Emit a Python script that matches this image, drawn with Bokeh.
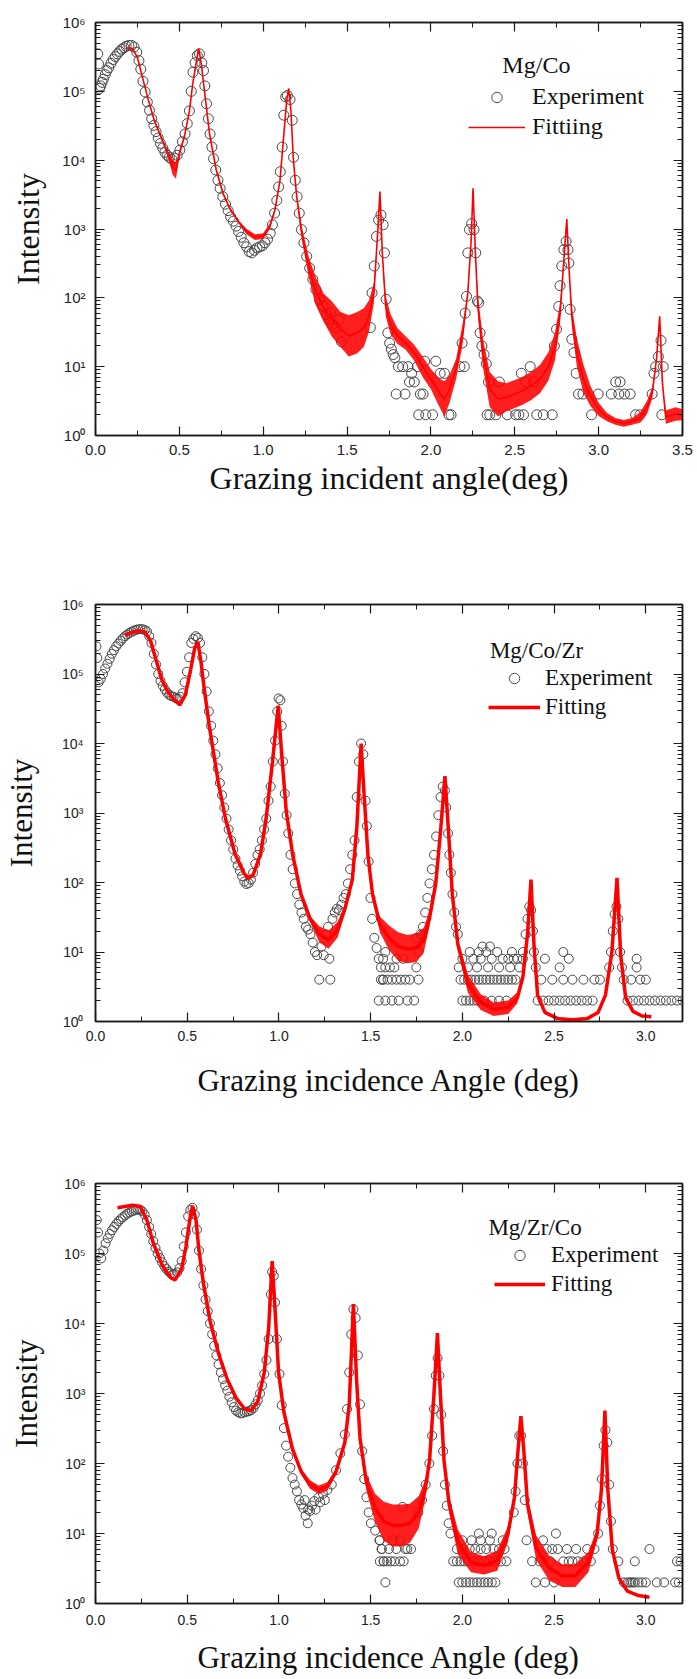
from bokeh.plotting import figure
from bokeh.models import (FixedTicker, LinearAxis, LogAxis, Legend, LegendItem,
                          Label, PrintfTickFormatter, Range1d)
from bokeh.layouts import column
from bokeh.embed import file_html
from bokeh.resources import INLINE

SERIF = "Liberation Serif"
SANS = "Liberation Sans"

# ---------------- Panel 1 : Mg/Co ----------------
exp1_x = [0.013, 0.018, 0.024, 0.031, 0.039, 0.047, 0.058, 0.068, 0.079, 0.092, 0.105, 0.118, 0.131,
          0.144, 0.157, 0.170, 0.183, 0.199, 0.215, 0.230, 0.246, 0.259, 0.270, 0.283, 0.296, 0.309,
          0.322, 0.335, 0.348, 0.361, 0.374, 0.387, 0.401, 0.414, 0.427, 0.440, 0.455, 0.471, 0.487,
          0.503, 0.518, 0.534, 0.547, 0.560, 0.571, 0.581, 0.594, 0.607, 0.620, 0.634, 0.644, 0.652,
          0.662, 0.673, 0.683, 0.694, 0.704, 0.717, 0.730, 0.743, 0.759, 0.775, 0.791, 0.806, 0.822,
          0.838, 0.853, 0.869, 0.885, 0.901, 0.916, 0.932, 0.948, 0.963, 0.979, 0.995, 1.010, 1.026,
          1.042, 1.055, 1.068, 1.081, 1.092, 1.102, 1.113, 1.123, 1.134, 1.144, 1.160, 1.173, 1.181,
          1.191, 1.202, 1.215, 1.228, 1.243, 1.259, 1.277, 1.296, 1.314, 1.335, 1.356, 1.377, 1.395,
          1.400, 1.414, 1.435, 1.453, 1.466, 1.639, 1.649, 1.662, 1.675, 1.688, 1.702, 1.715, 1.723,
          1.733, 1.743, 1.754, 1.764, 1.775, 1.785,
          1.793, 1.806, 1.832, 1.846, 1.864, 1.872, 1.885, 1.901, 1.919, 1.927, 1.937, 1.953, 1.963,
          1.969, 2.010, 2.029, 2.055, 2.081, 2.107, 2.120, 2.173, 2.186, 2.199, 2.204, 2.212, 2.220,
          2.230, 2.243, 2.257, 2.267, 2.277, 2.285, 2.293, 2.304, 2.317, 2.330, 2.335, 2.343, 2.351,
          2.387, 2.408, 2.455, 2.505, 2.524, 2.539, 2.552, 2.565, 2.592, 2.613, 2.631, 2.670, 2.723,
          2.736, 2.749, 2.762, 2.770, 2.780, 2.793, 2.806, 2.817, 2.822, 2.830, 2.840, 2.853, 2.866,
          2.880, 2.906, 2.958, 2.997, 3.076, 3.102, 3.120, 3.128, 3.154, 3.188, 3.220, 3.246, 3.319,
          3.330, 3.340, 3.356, 3.372, 3.377, 3.385]
exp1_y = [3.5e5, 2.5e5, 1.1e5, 1.2e5, 1.35e5, 1.5e5, 1.75e5, 2.0e5, 2.2e5, 2.55e5, 2.9e5, 3.2e5, 3.5e5,
          3.8e5, 4.1e5, 4.3e5, 4.5e5, 4.65e5, 4.65e5, 4.4e5, 3.7e5, 2.8e5, 2.1e5, 1.4e5, 9.8e4, 7.0e4,
          5.3e4, 4.0e4, 3.2e4, 2.6e4, 2.1e4, 1.75e4, 1.5e4, 1.3e4, 1.18e4, 1.1e4, 1.03e4, 1.07e4, 1.18e4,
          1.4e4, 1.85e4, 2.4e4, 3.4e4, 5.2e4, 1.0e5, 1.9e5, 2.6e5, 3.3e5, 3.5e5, 2.6e5, 2.0e5, 1.2e5,
          6.6e4, 4.0e4, 2.4e4, 1.55e4, 1.05e4, 7.2e3, 5.1e3, 3.9e3, 2.95e3, 2.3e3, 1.85e3, 1.5e3, 1.3e3,
          1.1e3, 920, 760, 630, 550, 470, 450, 490, 530, 550, 570, 630, 710,
          870, 1150, 1700, 2600, 4100, 6800, 1.55e4, 4.5e4, 8.3e4, 8.7e4, 7.6e4, 3.8e4, 1.1e4,
          5100, 2950, 1700, 980, 630, 400, 270, 185, 132, 95, 76, 57, 49,
          60, 41, 37, 48, 23, 37, 118, 290, 780, 1350, 1600, 1150, 450,
          95, 31, 22, 18, 15, 13.5,
          4, 10, 10, 4, 10, 6, 8, 6, 10, 2, 4, 4, 12,
          2, 2, 12, 8, 8, 2, 2, 10, 22, 10, 60, 105, 450,
          980, 1200, 980, 450, 90, 85, 31, 20, 15, 11, 2, 6, 2,
          2, 6, 2, 2, 2, 8, 2, 6, 10, 6, 2, 2, 2,
          20, 35, 75, 150, 290, 500, 660, 500, 320, 68, 25, 16, 8,
          4, 4, 2, 4, 4, 6, 4, 6, 4, 4, 2, 2, 4,
          8, 10, 14, 24, 2, 10]

fit1_x = [0.18, 0.20, 0.22, 0.25, 0.28, 0.31, 0.35, 0.39, 0.43, 0.46, 0.48, 0.50, 0.53, 0.56, 0.58,
          0.60, 0.615, 0.63, 0.65, 0.68, 0.72, 0.76, 0.80, 0.85, 0.90, 0.95, 1.00, 1.04, 1.07, 1.10,
          1.12, 1.14, 1.152, 1.165, 1.18, 1.20, 1.23, 1.27, 1.31, 1.36, 1.41, 1.46, 1.51, 1.56, 1.60,
          1.63, 1.66, 1.68, 1.696, 1.71, 1.73, 1.76, 1.80, 1.85, 1.90, 1.95, 2.00, 2.05, 2.08, 2.11,
          2.15, 2.19, 2.22, 2.24, 2.251, 2.265, 2.28, 2.31, 2.35, 2.40, 2.45, 2.50, 2.55, 2.60, 2.65,
          2.70, 2.74, 2.77, 2.79, 2.81, 2.825, 2.84, 2.87, 2.91, 2.95, 3.00, 3.05, 3.10, 3.15, 3.20,
          3.25, 3.29, 3.32, 3.345, 3.364, 3.38, 3.40, 3.43, 3.46, 3.50]
fit1_y = [4.2e5, 4.3e5, 4.2e5, 3.1e5, 1.6e5, 8.3e4, 3.8e4, 2.2e4, 1.25e4, 8.0e3, 7.0e3, 1.25e4, 2.2e4,
          5.2e4, 1.3e5, 2.6e5, 4.2e5, 2.6e5, 1.0e5, 2.4e4, 7.2e3, 3.3e3, 2.0e3, 1.3e3, 920, 760, 790,
          1.1e3, 1.9e3, 5.1e3, 1.95e4, 7.4e4, 1.1e5, 5.3e4, 1.0e4, 2.9e3, 870, 290, 130, 72, 49, 35,
          28, 31, 37, 54, 118, 700, 3.5e3, 450, 76, 41, 28, 22, 16, 10, 6.6, 4.2, 3.4, 4.7, 9.2, 31,
          118, 700, 3.9e3, 450, 76, 16, 4.7, 3.4, 3.6, 4.0, 4.5, 5.3, 6.6, 10, 20, 60, 290, 1.4e3, 230,
          54, 16, 6.6, 3.8, 2.4, 1.85, 1.6, 1.5, 1.6, 1.85, 2.6, 4.2, 13, 54, 5.9, 1.85, 1.95, 2.05,
          2.0]
fit1_spread = [1.0, 1.0, 1.0, 1.0, 1.0, 1.0, 1.05, 1.05, 1.1, 1.3, 1.3, 1.1, 1.05, 1.0, 1.0,
               1.0, 1.0, 1.0, 1.0, 1.0, 1.05, 1.05, 1.05, 1.05, 1.1, 1.1, 1.1, 1.1, 1.05, 1.0,
               1.0, 1.0, 1.0, 1.0, 1.0, 1.1, 1.25, 1.4, 1.6, 1.6, 1.8, 1.8, 2.0, 2.0, 1.9,
               1.7, 1.4, 1.0, 1.0, 1.0, 1.4, 1.4, 1.3, 1.25, 1.3, 1.4, 1.4, 1.6, 1.8, 1.6,
               1.4, 1.4, 1.0, 1.0, 1.0, 1.0, 1.4, 1.6, 1.8, 1.8, 1.6, 1.6, 1.6, 1.6, 1.6,
               1.6, 1.6, 1.4, 1.0, 1.0, 1.0, 1.4, 1.6, 1.6, 1.4, 1.25, 1.15, 1.12, 1.12, 1.12,
               1.2, 1.25, 1.2, 1.0, 1.0, 1.0, 1.25, 1.25, 1.25, 1.2]

# ---------------- Panel 2 : Mg/Co/Zr ----------------
exp2_x = [0.005, 0.010, 0.017, 0.029, 0.041, 0.053, 0.065, 0.077, 0.089, 0.101, 0.113, 0.125, 0.137,
          0.149, 0.161, 0.173, 0.185, 0.197, 0.209, 0.221, 0.233, 0.245, 0.257, 0.269, 0.281, 0.293,
          0.305, 0.318, 0.330, 0.342, 0.354, 0.366, 0.378, 0.390, 0.402, 0.414, 0.426, 0.438, 0.450,
          0.462, 0.474, 0.486, 0.498, 0.510, 0.522, 0.534, 0.546, 0.558, 0.570, 0.582, 0.594, 0.606,
          0.618, 0.630, 0.642, 0.654, 0.666, 0.678, 0.690, 0.702, 0.714, 0.726, 0.739, 0.751, 0.763,
          0.775, 0.787, 0.799, 0.811, 0.823, 0.835, 0.847, 0.859, 0.871, 0.883, 0.895, 0.907, 0.919,
          0.931, 0.943, 0.955, 0.967, 0.979, 0.991, 0.998, 1.008, 1.015, 1.022, 1.032, 1.042, 1.051,
          1.063, 1.075, 1.087, 1.099, 1.111, 1.123, 1.135, 1.147, 1.159, 1.172, 1.184, 1.196, 1.208,
          1.220, 1.232, 1.244, 1.256, 1.268, 1.275, 1.280, 1.292, 1.304, 1.316, 1.328, 1.340, 1.352,
          1.364, 1.376, 1.388, 1.400, 1.412, 1.424, 1.436, 1.448, 1.460, 1.472, 1.479, 1.489, 1.499,
          1.508, 1.520, 1.532, 1.544, 1.556, 1.568,
          1.544, 1.580, 1.616, 1.653, 1.701, 1.737, 1.556, 1.568, 1.592, 1.616, 1.641, 1.665, 1.689,
          1.713, 1.761, 1.580, 1.605, 1.629, 1.749, 1.568, 1.641, 1.677, 1.580, 1.761,
          1.749, 1.773, 1.785, 1.797, 1.809, 1.821, 1.833, 1.845, 1.857, 1.869, 1.881, 1.893, 1.905,
          1.912, 1.922, 1.929, 1.937, 1.946, 1.956, 1.965, 1.975,
          2.00, 2.02, 2.04, 2.06, 2.08, 2.12, 2.16, 2.20, 2.24,
          1.99, 2.01, 2.03, 2.05, 2.07, 2.09, 2.11, 2.13, 2.15, 2.17, 2.19, 2.21, 2.23, 2.25, 2.27, 2.29,
          1.98, 2.03, 2.08, 2.14, 2.20, 2.26, 2.31,
          2.00, 2.06, 2.10, 2.16, 2.22, 2.25, 2.28, 2.30, 2.33,
          2.04, 2.09, 2.13, 2.19, 2.27, 2.11, 2.15,
          2.33, 2.345, 2.355, 2.365, 2.375, 2.385, 2.39, 2.40,
          2.41, 2.44, 2.47, 2.50, 2.53, 2.56, 2.59, 2.62, 2.65, 2.68, 2.71,
          2.43, 2.49, 2.55, 2.60, 2.66, 2.72, 2.75, 2.53, 2.45, 2.58, 2.55,
          2.80, 2.81, 2.82, 2.83, 2.84, 2.85, 2.86, 2.87,
          2.90, 2.93, 2.96, 2.99, 3.02, 3.05, 3.08, 3.11, 3.14, 3.17, 3.20,
          2.88, 2.92, 2.97, 3.00, 2.95, 2.95]
exp2_y = [2.5e5, 1.7e5, 7.6e4, 8.5e4, 1.0e5, 1.2e5, 1.4e5, 1.65e5, 1.95e5, 2.2e5, 2.5e5, 2.75e5, 3.0e5,
          3.25e5, 3.5e5, 3.7e5, 3.9e5, 4.05e5, 4.2e5, 4.3e5, 4.4e5, 4.45e5, 4.4e5, 4.3e5, 4.1e5, 3.5e5,
          2.8e5, 1.95e5, 1.37e5, 1.0e5, 8.0e4, 6.8e4, 6.0e4, 5.4e4, 5.0e4, 4.8e4, 4.7e4, 4.5e4, 4.45e4,
          4.7e4, 5.3e4, 7.6e4, 1.08e5, 1.74e5, 2.8e5, 3.2e5, 3.5e5, 3.3e5, 2.8e5, 1.74e5, 1.0e5, 5.6e4,
          2.9e4, 1.8e4, 1.1e4, 7.0e3, 4.4e3, 2.7e3, 1.8e3, 1.2e3, 830, 580, 405, 300, 220,
          176, 148, 123, 103, 95, 98, 110, 138, 185, 250, 300, 405, 580,
          830, 1.5e3, 2.4e3, 5.5e3, 1.1e4, 2.9e4, 4.45e4, 4.2e4, 1.8e4, 5.5e3, 1.9e3, 930, 510,
          250, 155, 97, 68, 48, 37, 30, 23, 21, 18, 13.7, 10, 9,
          4, 12, 9, 18, 23, 8, 4, 30, 37, 42, 40, 48, 60,
          68, 97, 155, 250, 405, 1.7e3, 5.5e3, 1.0e4, 7.0e3, 1.5e3, 650, 200, 60,
          30, 16, 11.4, 8, 6, 4,
          2, 2, 2, 2, 2, 2, 4, 4, 4, 4, 4, 4, 4,
          4, 4, 6, 6, 6, 6, 8, 8, 8, 10, 10,
          16, 18, 23, 37, 60, 97, 155, 250, 460, 930, 1700, 2400, 2100,
          1200, 510, 250, 138, 68, 37, 23, 18,
          2, 2, 2, 2, 2, 2, 2, 2, 2,
          4, 4, 4, 4, 4, 4, 4, 4, 4, 4, 4, 4, 4, 4, 4, 4,
          6, 6, 6, 6, 6, 6, 6,
          8, 8, 8, 8, 8, 8, 8, 8, 8,
          10, 10, 10, 10, 10, 12, 12,
          10, 18, 30, 45, 40, 20, 10, 6,
          2, 2, 2, 2, 2, 2, 2, 2, 2, 2, 2,
          4, 4, 4, 4, 4, 4, 4, 6, 8, 8, 10,
          6, 10, 20, 35, 45, 30, 10, 6,
          2, 2, 2, 2, 2, 2, 2, 2, 2, 2, 2,
          4, 4, 4, 4, 6, 8]

fit2_x = [0.16, 0.20, 0.24, 0.27, 0.30, 0.33, 0.36, 0.39, 0.43, 0.46, 0.49, 0.52, 0.54, 0.558, 0.575,
          0.59, 0.62, 0.67, 0.71, 0.76, 0.81, 0.835, 0.86, 0.90, 0.93, 0.965, 0.996, 1.015, 1.04,
          1.075, 1.12, 1.17, 1.22, 1.27, 1.32, 1.36, 1.40, 1.425, 1.448, 1.465, 1.485, 1.51, 1.55,
          1.60, 1.65, 1.70, 1.75, 1.79, 1.82, 1.855, 1.88, 1.905, 1.925, 1.945, 1.975, 2.03, 2.10,
          2.17, 2.25, 2.30, 2.33, 2.355, 2.374, 2.39, 2.41, 2.45, 2.52, 2.60, 2.68, 2.74, 2.78, 2.815,
          2.843, 2.863, 2.89, 2.93, 2.98, 3.03]
fit2_y = [3.6e5, 4.0e5, 4.2e5, 4.0e5, 3.0e5, 1.6e5, 8.5e4, 5.8e4, 4.2e4, 3.6e4, 5.0e4, 1.2e5, 2.3e5,
          2.9e5, 1.5e5, 7.0e4, 1.8e4, 2.7e3, 800, 260, 135, 115, 130, 260, 830, 5.5e3, 3.5e4, 7.0e3,
          1.05e3, 250, 68, 30, 18, 15, 21, 42, 110, 650, 1.0e4, 1.7e3, 250, 68, 25, 16, 12, 11,
          11.5, 15, 30, 97, 510, 3.4e3, 510, 68, 13, 3.5, 1.9, 1.5, 1.6, 2.2, 4.4, 18, 110, 13,
          2.4, 1.35, 1.1, 1.06, 1.1, 1.35, 2.4, 10, 117, 9, 2.2, 1.4, 1.2, 1.17]
fit2_spread = [1.0, 1.0, 1.0, 1.0, 1.0, 1.0, 1.0, 1.0, 1.0, 1.0, 1.0, 1.0, 1.0, 1.0, 1.0,
               1.0, 1.0, 1.0, 1.0, 1.0, 1.0, 1.0, 1.0, 1.0, 1.0, 1.0, 1.0, 1.0, 1.0,
               1.0, 1.05, 1.1, 1.3, 1.35, 1.3, 1.15, 1.0, 1.0, 1.0, 1.0, 1.0, 1.1, 1.3,
               1.5, 1.6, 1.6, 1.6, 1.5, 1.3, 1.0, 1.0, 1.0, 1.0, 1.0, 1.2, 1.35, 1.3,
               1.25, 1.25, 1.2, 1.0, 1.0, 1.0, 1.0, 1.1, 1.05, 1.05, 1.05, 1.05, 1.0, 1.0, 1.0,
               1.0, 1.0, 1.0, 1.0, 1.0, 1.0]

# ---------------- Panel 3 : Mg/Zr/Co ----------------
exp3_x = [0.007, 0.014, 0.021, 0.031, 0.043, 0.055, 0.067, 0.078, 0.090, 0.102, 0.114, 0.126, 0.138,
          0.149, 0.161, 0.173, 0.185, 0.197, 0.209, 0.221, 0.233, 0.244, 0.256, 0.268, 0.280, 0.292,
          0.304, 0.315, 0.327, 0.339, 0.351, 0.363, 0.375, 0.387, 0.399, 0.410, 0.422, 0.434, 0.446,
          0.458, 0.470, 0.481, 0.493, 0.505, 0.517, 0.529, 0.541, 0.553, 0.564, 0.576, 0.588, 0.600,
          0.612, 0.624, 0.636, 0.647, 0.659, 0.671, 0.683, 0.695, 0.707, 0.719, 0.730, 0.742, 0.754,
          0.766, 0.778, 0.790, 0.801, 0.813, 0.825, 0.837, 0.849, 0.861, 0.873, 0.885, 0.897, 0.908,
          0.920, 0.932, 0.944, 0.956, 0.963, 0.972, 0.979, 0.989, 1.003, 1.015, 1.027, 1.039, 1.050,
          1.062, 1.074, 1.086, 1.098, 1.110, 1.122, 1.133, 1.140, 1.145, 1.157, 1.160, 1.169, 1.180,
          1.193, 1.200, 1.217, 1.225, 1.240, 1.250, 1.264, 1.288, 1.311, 1.335, 1.359, 1.371, 1.383,
          1.394, 1.406, 1.418, 1.430, 1.442, 1.454, 1.465, 1.477, 1.489, 1.501, 1.525, 1.548, 1.560,
          1.572,
          1.58, 1.55, 1.57, 1.59, 1.61, 1.63, 1.66, 1.68, 1.56, 1.60, 1.64, 1.69, 1.72, 1.55, 1.62,
          1.66, 1.674, 1.70,
          1.76, 1.78, 1.80, 1.82, 1.835, 1.845, 1.855, 1.865, 1.875, 1.885, 1.895, 1.905, 1.915,
          1.925, 1.935,
          1.98, 2.00, 2.02, 2.04, 2.06, 2.08, 2.10, 2.12, 2.14, 2.16, 2.18,
          1.95, 1.97, 1.99, 2.01, 2.03, 2.06, 2.09, 2.12, 2.15, 2.18, 2.21, 2.24,
          1.97, 2.00, 2.04, 2.07, 2.10, 2.13, 2.17, 2.20, 2.23,
          2.00, 2.05, 2.10, 2.15, 2.22, 2.09, 2.16,
          2.28, 2.29, 2.30, 2.31, 2.32, 2.33, 2.34, 2.35,
          2.40, 2.45, 2.50, 2.38, 2.42, 2.48, 2.55, 2.58, 2.60, 2.63, 2.66, 2.70,
          2.46, 2.49, 2.52, 2.57, 2.62, 2.68, 2.72, 2.44, 2.51,
          2.74, 2.75, 2.76, 2.77, 2.78, 2.79, 2.80, 2.81, 2.82,
          2.88, 2.90, 2.91, 2.92, 2.93, 2.94, 2.96, 2.98, 3.00, 3.06, 3.10, 3.16, 3.18,
          2.85, 2.94, 3.17, 3.19, 3.02]
exp3_y = [3.0e5, 2.0e5, 1.0e5, 8.5e4, 1.1e5, 1.4e5, 1.65e5, 1.9e5, 2.15e5, 2.4e5, 2.65e5, 2.9e5, 3.1e5,
          3.3e5, 3.5e5, 3.7e5, 3.85e5, 4.0e5, 4.1e5, 4.2e5, 4.25e5, 4.2e5, 4.0e5, 3.6e5, 3.0e5, 2.4e5,
          1.9e5, 1.5e5, 1.2e5, 1.0e5, 8.6e4, 7.5e4, 6.6e4, 6.0e4, 5.5e4, 5.2e4, 5.0e4, 5.1e4, 5.4e4,
          6.2e4, 7.8e4, 1.26e5, 2.0e5, 3.4e5, 4.2e5, 4.5e5, 3.6e5, 2.2e5, 1.1e5, 6.0e4, 3.5e4, 2.2e4,
          1.5e4, 1.0e4, 7.0e3, 4.8e3, 3.5e3, 2.6e3, 2.0e3, 1.6e3, 1.3e3, 1.1e3, 900, 750, 640,
          570, 540, 520, 525, 540, 550, 560, 580, 620, 700, 800, 1.0e3, 1.3e3,
          1.9e3, 3.0e3, 6.0e3, 2.6e4, 5.5e4, 4.8e4, 2.0e4, 6.0e3, 1.9e3, 680, 320, 180, 125,
          87, 62, 50, 40, 30, 26, 23, 30, 18, 14, 22, 21, 25,
          29, 22, 33, 28, 37, 30, 42, 50, 80, 140, 260, 600, 2.0e3,
          7.0e3, 1.6e4, 1.2e4, 3.5e3, 700, 150, 60, 33, 20, 14, 11, 8, 6,
          4,
          2, 4, 4, 4, 4, 4, 4, 4, 6, 6, 6, 6, 6, 8, 8,
          8, 24, 6,
          20, 30, 50, 100, 250, 600, 1800, 3200, 1800, 500, 150, 50, 25,
          14, 10,
          2, 2, 2, 2, 2, 2, 2, 2, 2, 2, 2,
          4, 4, 4, 4, 4, 4, 4, 4, 4, 4, 4, 4,
          6, 6, 6, 6, 6, 6, 6, 6, 6,
          8, 8, 8, 8, 8, 10, 10,
          20, 40, 100, 250, 250, 100, 30, 8,
          2, 2, 2, 4, 4, 4, 4, 4, 4, 4, 4, 4,
          6, 6, 6, 6, 6, 6, 6, 8, 10,
          10, 25, 60, 180, 300, 200, 50, 15, 6,
          2, 2, 2, 2, 2, 2, 2, 2, 2, 2, 2, 2, 2,
          4, 4, 4, 4, 6]

fit3_x = [0.12, 0.20, 0.244, 0.28, 0.315, 0.363, 0.41, 0.434, 0.47, 0.493, 0.517, 0.529, 0.548, 0.564,
          0.588, 0.624, 0.671, 0.718, 0.766, 0.813, 0.849, 0.885, 0.92, 0.944, 0.963, 0.98, 0.998,
          1.027, 1.074, 1.122, 1.169, 1.217, 1.264, 1.311, 1.359, 1.383, 1.406, 1.423, 1.442, 1.477,
          1.525, 1.572, 1.62, 1.667, 1.714, 1.762, 1.797, 1.821, 1.845, 1.864, 1.88, 1.90, 1.928,
          1.975, 2.047, 2.118, 2.19, 2.248, 2.284, 2.302, 2.319, 2.336, 2.355, 2.402, 2.473, 2.544,
          2.616, 2.687, 2.734, 2.758, 2.777, 2.793, 2.817, 2.853, 2.90, 2.96, 3.02]
fit3_y = [4.5e5, 4.9e5, 4.7e5, 3.0e5, 1.4e5, 6.9e4, 4.5e4, 4.2e4, 6.1e4, 1.26e5, 3.4e5, 4.8e5, 3.0e5,
          1.1e5, 3.8e4, 1.1e4, 3.7e3, 1.6e3, 870, 600, 570, 770, 2.0e3, 8.7e3, 7.8e4, 1.4e4, 2.0e3,
          540, 160, 76, 50, 42, 47, 76, 200, 680, 1.9e4, 1.6e3, 230, 53, 23, 15, 13, 13, 14, 20,
          42, 110, 980, 7.3e3, 980, 110, 26, 7.6, 3.9, 3.5, 4.1, 9.7, 33, 140, 475, 140, 26, 6.3,
          3.2, 2.5, 2.5, 3.9, 9.7, 42, 570, 42, 6.0, 2.3, 1.5, 1.3, 1.23]
fit3_spread = [1.0, 1.0, 1.0, 1.0, 1.0, 1.0, 1.0, 1.0, 1.0, 1.0, 1.0, 1.0, 1.0, 1.0,
               1.0, 1.0, 1.0, 1.0, 1.0, 1.0, 1.0, 1.0, 1.0, 1.0, 1.0, 1.0, 1.0,
               1.0, 1.0, 1.1, 1.15, 1.15, 1.15, 1.1, 1.0, 1.0, 1.0, 1.0, 1.0, 1.3,
               1.6, 1.9, 2.0, 2.0, 1.9, 1.7, 1.4, 1.0, 1.0, 1.0, 1.0, 1.0, 1.3,
               1.5, 1.4, 1.35, 1.4, 1.3, 1.0, 1.0, 1.0, 1.0, 1.3, 1.5, 1.5, 1.45,
               1.45, 1.4, 1.2, 1.0, 1.0, 1.0, 1.0, 1.0, 1.0, 1.0, 1.0]

x_ticks_p1 = [0.0, 0.5, 1.0, 1.5, 2.0, 2.5, 3.0, 3.5]
x_ticks_p23 = [0.0, 0.5, 1.0, 1.5, 2.0, 2.5, 3.0]
x_minor = [0.25, 0.75, 1.25, 1.75, 2.25, 2.75, 3.25]
y_ticks = [1, 10, 100, 1000, 10000, 100000, 1000000]
y_tick_labels = ["10\u2070", "10\u00b9", "10\u00b2", "10\u00b3", "10\u2074", "10\u2075", "10\u2076"]
y_minor = [m * d for d in [1, 10, 100, 1000, 10000, 100000] for m in range(2, 10)]

AX = "#1a1a1a"
W = 695


def style_axis(ax, ticker, tick_px=None):
    ax.ticker = ticker
    ax.axis_line_color = AX
    ax.axis_line_width = 1.5
    ax.major_tick_line_color = AX
    ax.minor_tick_line_color = AX
    ax.major_tick_line_width = 1.2
    ax.minor_tick_line_width = 1.0
    ax.major_tick_in = 9
    ax.major_tick_out = 0
    ax.minor_tick_in = 5
    ax.minor_tick_out = 0
    if tick_px is not None:
        ax.major_label_text_font = SANS
        ax.major_label_text_font_size = tick_px
        ax.major_label_text_color = "#222222"
    else:
        ax.major_label_standoff = 0


def mirror(p, cls, place, majors, minors):
    # tick-only mirror axes: no major ticks (so no labels), ticks drawn as "minor" ones
    a1 = cls(ticker=FixedTicker(ticks=[], minor_ticks=majors))
    style_axis(a1, a1.ticker)
    a1.minor_tick_in = 9
    a1.minor_tick_line_width = 1.2
    a2 = cls(ticker=FixedTicker(ticks=[], minor_ticks=minors))
    style_axis(a2, a2.ticker)
    a2.axis_line_width = 0.5
    p.add_layout(a1, place)
    p.add_layout(a2, place)


def build(cfg):
    p = figure(width=W, height=cfg["height"], y_axis_type="log",
               x_range=Range1d(0, cfg["xmax"]), y_range=Range1d(1, 1e6),
               output_backend="svg", toolbar_location=None,
               min_border_left=cfg["mb"][0], min_border_right=cfg["mb"][1],
               min_border_top=cfg["mb"][2], min_border_bottom=cfg["mb"][3])
    p.xgrid.visible = False
    p.ygrid.visible = False
    p.outline_line_color = AX
    p.outline_line_width = 1.5
    p.background_fill_color = "white"
    p.border_fill_color = "white"

    xt = FixedTicker(ticks=cfg["xticks"], minor_ticks=x_minor)
    yt = FixedTicker(ticks=y_ticks, minor_ticks=y_minor)

    xa = p.xaxis[0]
    style_axis(xa, xt, cfg["tick_px"])
    xa.formatter = PrintfTickFormatter(format="%.1f")
    xa.major_label_standoff = cfg["xl_std"]
    xa.axis_label = cfg["xtitle"]
    xa.axis_label_text_font = SERIF
    xa.axis_label_text_font_style = "normal"
    xa.axis_label_text_font_size = cfg["title_px"]
    xa.axis_label_text_color = "#111111"
    xa.axis_label_standoff = cfg["xt_std"]

    ya = p.yaxis[0]
    style_axis(ya, yt, cfg["tick_px"])
    ya.formatter = PrintfTickFormatter(format="%g")
    ya.major_label_overrides = dict(zip(y_ticks, y_tick_labels))
    ya.major_label_standoff = cfg["yl_std"]
    ya.axis_label = "Intensity"
    ya.axis_label_text_font = SERIF
    ya.axis_label_text_font_style = "normal"
    ya.axis_label_text_font_size = cfg["title_px"]
    ya.axis_label_text_color = "#111111"
    ya.axis_label_standoff = cfg["yt_std"]

    mirror(p, LinearAxis, "above", cfg["xticks"], x_minor)
    mirror(p, LogAxis, "right", y_ticks, y_minor)

    fx, fy, fs = cfg["fit"]
    lo = [y / s for y, s in zip(fy, fs)]
    hi = [y * s for y, s in zip(fy, fs)]

    ex, ey = cfg["exp"]
    r_exp = p.scatter(ex, ey, marker="circle", size=cfg["msize"], fill_color=None,
                      line_color="#484848", line_width=1.0)
    p.varea(x=fx, y1=lo, y2=hi, fill_color="#ff0000", fill_alpha=0.88)
    r_fit = p.line(fx, fy, line_color="#ff0000", line_width=cfg["fit_w"])

    leg = Legend(items=[LegendItem(label="Experiment", renderers=[r_exp]),
                        LegendItem(label=cfg["fit_label"], renderers=[r_fit])],
                 location=cfg["leg_loc"], orientation="vertical",
                 label_text_font=SERIF, label_text_font_size=cfg["leg_px"],
                 label_text_color="#111111",
                 glyph_width=cfg["glyph_w"], glyph_height=26, label_height=26,
                 label_standoff=cfg["leg_std"], spacing=3, padding=0, margin=0,
                 background_fill_alpha=0, border_line_alpha=0)
    p.add_layout(leg)

    sx, sy = cfg["sample_xy"]
    p.add_layout(Label(x=sx, y=sy, text=cfg["sample"], text_font=SERIF,
                       text_font_size=cfg["leg_px"], text_color="#111111",
                       text_baseline="alphabetic", text_align="left"))
    return p


p1 = build(dict(height=556, xmax=3.5, mb=(90, W - 683, 22, 121), xticks=x_ticks_p1,
                tick_px="15px", title_px="32px", leg_px="24px",
                xl_std=9, xt_std=2, yl_std=10, yt_std=13,
                xtitle="Grazing incident angle(deg)",
                fit=(fit1_x, fit1_y, fit1_spread), exp=(exp1_x, exp1_y),
                msize=10, fit_w=1.6, fit_label="Fittiing", sample="Mg/Co",
                leg_loc=(373, 295), glyph_w=57, leg_std=7, sample_xy=(2.426, 2.45e5)))

p2 = build(dict(height=584, xmax=3.2, mb=(91, W - 682, 48, 119), xticks=x_ticks_p23,
                tick_px="14px", title_px="31px", leg_px="23px",
                xl_std=9, xt_std=19, yl_std=12, yt_std=20,
                xtitle="Grazing incidence Angle (deg)",
                fit=(fit2_x, fit2_y, fit2_spread), exp=(exp2_x, exp2_y),
                msize=9, fit_w=3.5, fit_label="Fitting", sample="Mg/Co/Zr",
                leg_loc=(393, 301), glyph_w=52, leg_std=5, sample_xy=(2.150, 2.18e5)))

p3 = build(dict(height=537, xmax=3.2, mb=(88, W - 687, 43, 74), xticks=x_ticks_p23,
                tick_px="14px", title_px="31px", leg_px="23px",
                xl_std=11, xt_std=12, yl_std=10, yt_std=17,
                xtitle="Grazing incidence Angle (deg)",
                fit=(fit3_x, fit3_y, fit3_spread), exp=(exp3_x, exp3_y),
                msize=9, fit_w=3.5, fit_label="Fitting", sample="Mg/Zr/Co",
                leg_loc=(399, 306), glyph_w=51, leg_std=6, sample_xy=(2.142, 2.36e5)))

layout = column(p1, p2, p3, spacing=0)
open("out.html", "w").write(file_html(layout, INLINE))
